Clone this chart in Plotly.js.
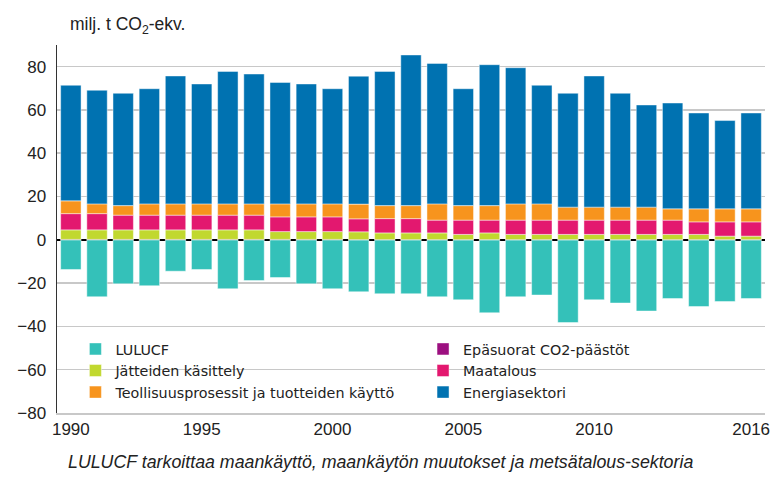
<!DOCTYPE html>
<html>
<head>
<meta charset="utf-8">
<script src="https://cdn.plot.ly/plotly-3.0.1.min.js"></script>
<style>html,body{margin:0;padding:0;background:#fff;}#chart{width:775px;height:480px;}</style>
</head>
<body>
<div id="chart"></div>
<script>
const years = [1990,1991,1992,1993,1994,1995,1996,1997,1998,1999,2000,2001,2002,2003,2004,2005,2006,2007,2008,2009,2010,2011,2012,2013,2014,2015,2016];
const lulucf = [-13.7,-26.3,-20.3,-21.2,-14.5,-13.7,-22.6,-18.8,-17.4,-20.3,-22.6,-24.0,-24.9,-24.9,-26.3,-27.7,-33.7,-26.3,-25.5,-38.2,-27.7,-29.2,-32.9,-27.1,-30.8,-28.5,-27.1];
const epasuorat = [0.2,0.2,0.2,0.2,0.2,0.2,0.2,0.2,0.2,0.2,0.2,0.1,0.1,0.1,0.1,0.1,0.1,0.1,0.1,0.1,0.1,0.1,0.1,0.1,0.1,0.1,0.1];
const jatteet = [4.4,4.4,4.4,4.4,4.4,4.4,4.4,4.4,3.6,3.6,3.6,3.6,3.1,3.1,3.1,2.4,3.1,2.4,2.4,2.4,2.4,2.4,2.4,2.4,2.4,1.6,1.6];
const maatalous = [7.5,7.5,6.8,6.8,6.8,6.8,6.8,6.8,6.8,6.8,6.8,6.0,6.6,6.6,5.9,6.6,5.9,6.6,6.6,6.6,6.6,6.6,6.6,6.6,5.8,6.6,6.6];
const teollisuus = [5.9,4.5,4.4,5.2,5.2,5.2,5.2,5.2,6.0,6.0,6.0,6.8,6.0,6.0,7.5,6.7,6.7,7.5,7.5,6.0,6.0,6.0,6.0,5.2,6.0,6.0,6.0];
const energia = [53.4,52.5,51.9,53.2,59.1,55.4,61.2,60.0,56.1,55.4,53.2,59.1,62.0,69.6,64.9,54.0,65.1,62.9,54.8,52.6,60.6,52.6,47.2,48.9,44.3,40.8,44.3];
const names = ['LULUCF','Epäsuorat CO2-päästöt','Jätteiden käsittely','Maatalous','Teollisuusprosessit ja tuotteiden käyttö','Energiasektori'];
const colors = ['#34c1b9','#9c0f80','#c1d82f','#e3186f','#f7941d','#0072b1'];
const series = [lulucf, epasuorat, jatteet, maatalous, teollisuus, energia];
const legendOf = ['legend','legend2','legend','legend2','legend','legend2'];
const xTicks = [1990,1995,2000,2005,2010,2016];

const traces = series.map((vals, i) => ({
  type: 'bar', x: years, y: vals, name: names[i], legend: legendOf[i],
  marker: {color: colors[i], line: {color: 'rgba(255,255,255,0.45)', width: 1}},
  hoverinfo: 'x+y+name'
}));

const FONT = 'Liberation Sans, Arial, sans-serif';
const LFONT = {family: 'DejaVu Sans, sans-serif', size: 14.3, color: '#222'};
const legendBase = {orientation: 'v', y: 0.217, xanchor: 'left', yanchor: 'top', bgcolor: 'rgba(0,0,0,0)',
  font: LFONT, itemwidth: 30, tracegroupgap: 0, traceorder: 'normal'};
const layout = {
  width: 775, height: 480,
  margin: {l: 57, r: 10, t: 45, b: 67},
  paper_bgcolor: '#fff', plot_bgcolor: '#fff',
  barmode: 'relative', bargap: 0.22,
  showlegend: true,
  legend: Object.assign({}, legendBase, {x: 0.026}),
  legend2: Object.assign({}, legendBase, {x: 0.517}),
  xaxis: {
    range: [1989.47, 2016.53], tickvals: xTicks, ticktext: xTicks.map(String),
    showgrid: false, zeroline: false, showline: true, linecolor: '#c8c8c8', linewidth: 2,
    ticks: '', tickfont: {family: FONT, size: 17, color: '#222'}
  },
  yaxis: {
    range: [-80, 90], tickvals: [-80,-60,-40,-20,0,20,40,60,80], ticks: '',
    showgrid: true, gridcolor: '#c8c8c8', gridwidth: 1.5,
    zeroline: true, zerolinecolor: '#000', zerolinewidth: 1.5,
    showline: true, linecolor: '#333', linewidth: 1.5,
    tickfont: {family: FONT, size: 17, color: '#222'}, ticklabelstandoff: 6
  },
  shapes: [
    {type: 'rect', layer: 'between', xref: 'paper', yref: 'y', x0: 0.04, x1: 1.0, y0: -52, y1: -73,
     fillcolor: '#fff', line: {width: 0}}
  ],
  annotations: [
    {text: 'milj. t CO<sub>2</sub>-ekv.', xref: 'paper', yref: 'paper', x: 0.015, y: 1.015, xanchor: 'left', yanchor: 'bottom', showarrow: false,
     font: {family: FONT, size: 17.5, color: '#222'}},
    {text: '<i>LULUCF tarkoittaa maankäyttö, maankäytön muutokset ja metsätalous-sektoria</i>', xref: 'paper', yref: 'paper', x: 0.013, y: -0.133, xanchor: 'left', yanchor: 'middle', showarrow: false,
     font: {family: FONT, size: 17.8, color: '#222'}}
  ]
};
Plotly.newPlot('chart', traces, layout, {displayModeBar: false, staticPlot: true});
</script>
</body>
</html>
